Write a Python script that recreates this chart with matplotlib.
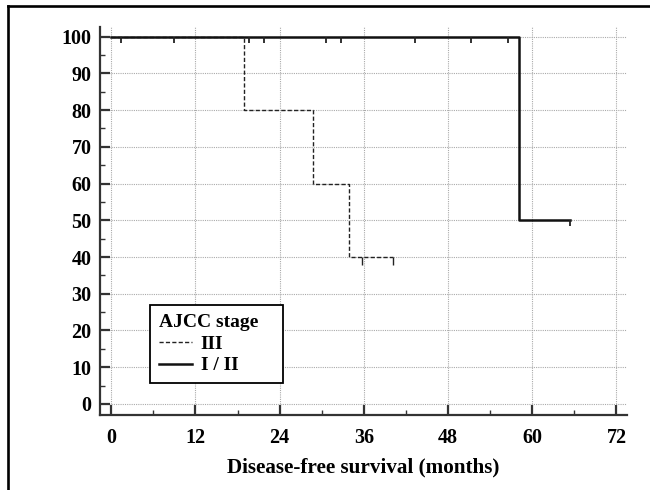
import matplotlib
matplotlib.use("Agg")
import matplotlib.pyplot as plt
from matplotlib.path import Path
from matplotlib.lines import Line2D
import numpy as np

# ---- data ----
t_stage12 = [0, 58.1, 65.4]
s_stage12 = [100, 50, 50]
cens_t_stage12 = [1.4, 8.9, 19.6, 21.7, 30.6, 32.7, 43.3, 51.2, 56.5, 65.4]
cens_s_stage12 = [100, 100, 100, 100, 100, 100, 100, 100, 100, 50]

t_stage3 = [0, 18.85, 28.7, 33.9, 40.2]
s_stage3 = [100, 80, 60, 40, 40]
cens_t_stage3 = [35.8, 40.2]
cens_s_stage3 = [40, 40]

xticks = [0, 12, 24, 36, 48, 60, 72]
yticks = [0, 10, 20, 30, 40, 50, 60, 70, 80, 90, 100]
labels = ["III", "I / II"]
legend_title = "AJCC stage"
xlabel = "Disease-free survival (months)"

plt.rcParams['font.family'] = ['Liberation Serif', 'DejaVu Serif']
plt.rcParams['font.weight'] = 'bold'

fig = plt.figure(figsize=(6.5, 4.9), dpi=100)
ax = fig.add_axes([100/650, 1-415/490, 527/650, 388/490])

dash = (0, (3, 1.6))
tickmark = Path([(0, 0), (0, -1)], [Path.MOVETO, Path.LINETO])

line3, = ax.plot(t_stage3, s_stage3, drawstyle='steps-post', color='#222222',
                 lw=1.0, linestyle=dash, zorder=3)
ax.plot(cens_t_stage3, cens_s_stage3, linestyle='none', marker=tickmark,
        markersize=11, markeredgewidth=1.0, color='#222222', zorder=3)

line12, = ax.plot(t_stage12, s_stage12, drawstyle='steps-post', color='#111111',
                  lw=1.8, zorder=4)
ax.plot(cens_t_stage12, cens_s_stage12, linestyle='none', marker=tickmark,
        markersize=9, markeredgewidth=1.3, color='#222222', zorder=4)

ax.set_xlim(-1.6, 73.5)
ax.set_ylim(-3.0, 102.6)
ax.set_xticks(xticks)
ax.set_yticks(yticks)
ax.set_xticks(np.array(xticks[:-1]) + 6, minor=True)
ax.set_yticks(np.array(yticks[:-1]) + 5, minor=True)

ax.grid(True, which='major', color='#aaaaaa', linestyle=(0, (1, 1)), lw=0.8)
ax.set_axisbelow(True)

for s in ['top', 'right']:
    ax.spines[s].set_visible(False)
for s in ['left', 'bottom']:
    ax.spines[s].set_color('#333333')
    ax.spines[s].set_linewidth(1.6)

ax.tick_params(axis='both', which='major', direction='in', length=7.5, width=1.6,
               color='#333333', labelsize=14.5)
ax.tick_params(axis='both', which='minor', direction='in', length=3.5, width=1.0,
               color='#333333')
ax.tick_params(axis='y', which='major', pad=6)
ax.tick_params(axis='x', which='major', pad=9)
for lbl in ax.get_xticklabels() + ax.get_yticklabels():
    lbl.set_fontweight('bold')

ax.set_xlabel(xlabel, fontsize=15.2, fontweight='bold', labelpad=7.5)

leg = ax.legend([line3, line12], labels, title=legend_title,
                loc='lower left', bbox_to_anchor=(0.095, 0.082, 0.2524, 0.2),
                mode='expand',
                borderaxespad=0, fancybox=False, framealpha=1,
                edgecolor='black', prop={'size': 14, 'weight': 'bold'},
                title_fontproperties={'size': 14, 'weight': 'bold'},
                handlelength=1.7, handletextpad=0.45, labelspacing=0.22,
                borderpad=0.45, alignment='left')
leg.get_frame().set_linewidth(1.3)

# figure border (left and top)
fig.add_artist(Line2D([7.5/650, 7.5/650], [0, 1-6.5/490], transform=fig.transFigure,
                      color='black', lw=1.9))
fig.add_artist(Line2D([7.5/650, 1], [1-6.5/490, 1-6.5/490], transform=fig.transFigure,
                      color='black', lw=1.9))

fig.savefig("out.png", dpi=100)
